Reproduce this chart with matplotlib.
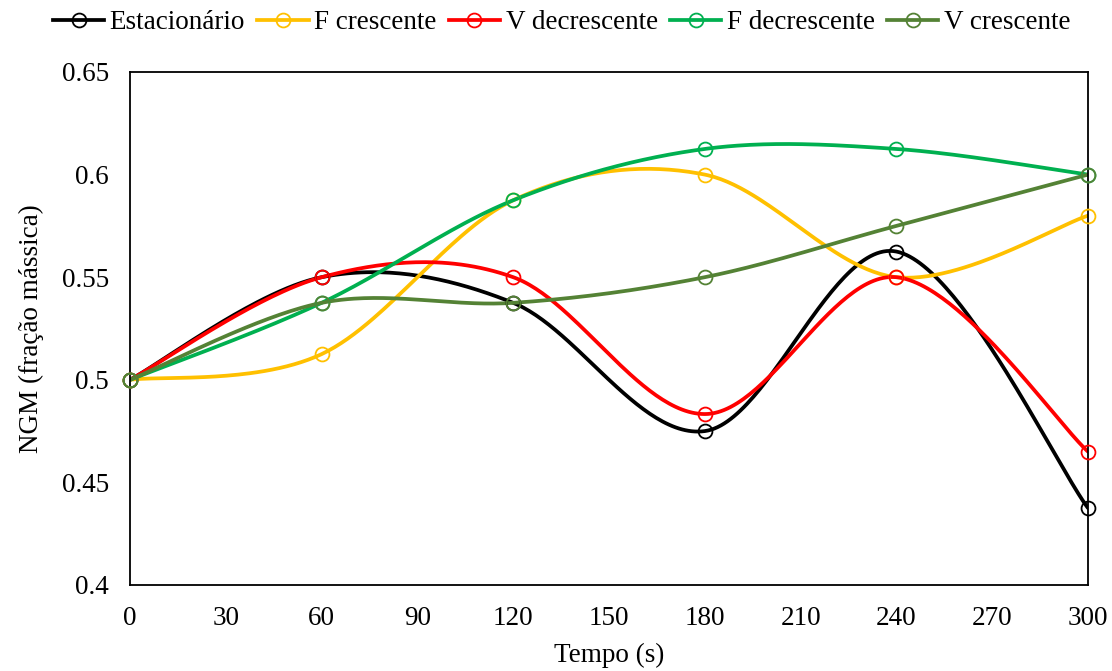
import numpy as np
import matplotlib
matplotlib.use("Agg")
import matplotlib.pyplot as plt
from matplotlib.lines import Line2D

plt.rcParams['font.family'] = ['Liberation Serif', 'DejaVu Serif']

tempo = [0, 60, 120, 180, 240, 300]
estacionario = [0.5, 0.55, 0.5375, 0.475, 0.5625, 0.4375]
f_crescente = [0.5, 0.5125, 0.5875, 0.6, 0.55, 0.58]
v_decrescente = [0.5, 0.55, 0.55, 0.4833, 0.55, 0.465]
f_decrescente = [0.5, 0.5375, 0.5875, 0.6125, 0.6125, 0.6]
v_crescente = [0.5, 0.5375, 0.5375, 0.55, 0.575, 0.6]

series = [
    ("Estacionário", estacionario, "#000000"),
    ("F crescente", f_crescente, "#FFC000"),
    ("V decrescente", v_decrescente, "#FF0000"),
    ("F decrescente", f_decrescente, "#00B050"),
    ("V crescente", v_crescente, "#548235"),
]

FS = 19.5


def smooth(xs, ys, n=60):
    """Cubic Bezier smoothing through every point (spreadsheet style)."""
    P = np.column_stack([xs, ys]).astype(float)
    m = len(P)
    out = []
    for i in range(m - 1):
        p0 = P[i - 1] if i > 0 else P[i]
        p1 = P[i]
        p2 = P[i + 1]
        p3 = P[i + 2] if i + 2 < m else P[i + 1]
        c1 = p1 + (p2 - p0) / 6.0
        c2 = p2 - (p3 - p1) / 6.0
        t = np.linspace(0, 1, n)[:, None]
        seg = ((1 - t) ** 3) * p1 + 3 * ((1 - t) ** 2) * t * c1 \
            + 3 * (1 - t) * t ** 2 * c2 + t ** 3 * p2
        out.append(seg if i == 0 else seg[1:])
    out = np.vstack(out)
    return out[:, 0], out[:, 1]


fig = plt.figure(figsize=(11.12, 6.71), dpi=100)
ax = fig.add_axes([0.1169, 0.1282, 0.8615, 0.7645])

handles = []
for name, vals, color in series:
    sx, sy = smooth(tempo, vals)
    ax.plot(sx, sy, color=color, lw=2.7, solid_capstyle='round', zorder=2)
    ax.plot(tempo, vals, linestyle='none', marker='o', markersize=10,
            markerfacecolor='none', markeredgecolor=color,
            markeredgewidth=1.3, zorder=3, clip_on=False)
    handles.append(Line2D([], [], color=color, lw=2.7, marker='o',
                          markersize=10, markerfacecolor='none',
                          markeredgecolor=color, markeredgewidth=1.3,
                          label=name))

ax.set_xlim(0, 300)
ax.set_ylim(0.4, 0.65)
ax.set_xticks(range(0, 301, 30))
ax.set_yticks([0.4, 0.45, 0.5, 0.55, 0.6, 0.65])
ax.set_yticklabels(["0.4", "0.45", "0.5", "0.55", "0.6", "0.65"])
ax.tick_params(axis='x', length=0, labelsize=FS, pad=15)
ax.tick_params(axis='y', length=0, labelsize=FS, pad=15)
for s in ax.spines.values():
    s.set_linewidth(1.3)
    s.set_color("black")

ax.set_xlabel("Tempo (s)", fontsize=FS, labelpad=9)
ax.set_ylabel("NGM (fração mássica)", fontsize=FS, labelpad=13)

fig.legend(handles=handles, loc='upper center', bbox_to_anchor=(0.505, 1.021),
           ncol=5, frameon=False, fontsize=FS, handlelength=1.9,
           handletextpad=0.2, columnspacing=0.45)

fig.savefig("out.png", dpi=100)
